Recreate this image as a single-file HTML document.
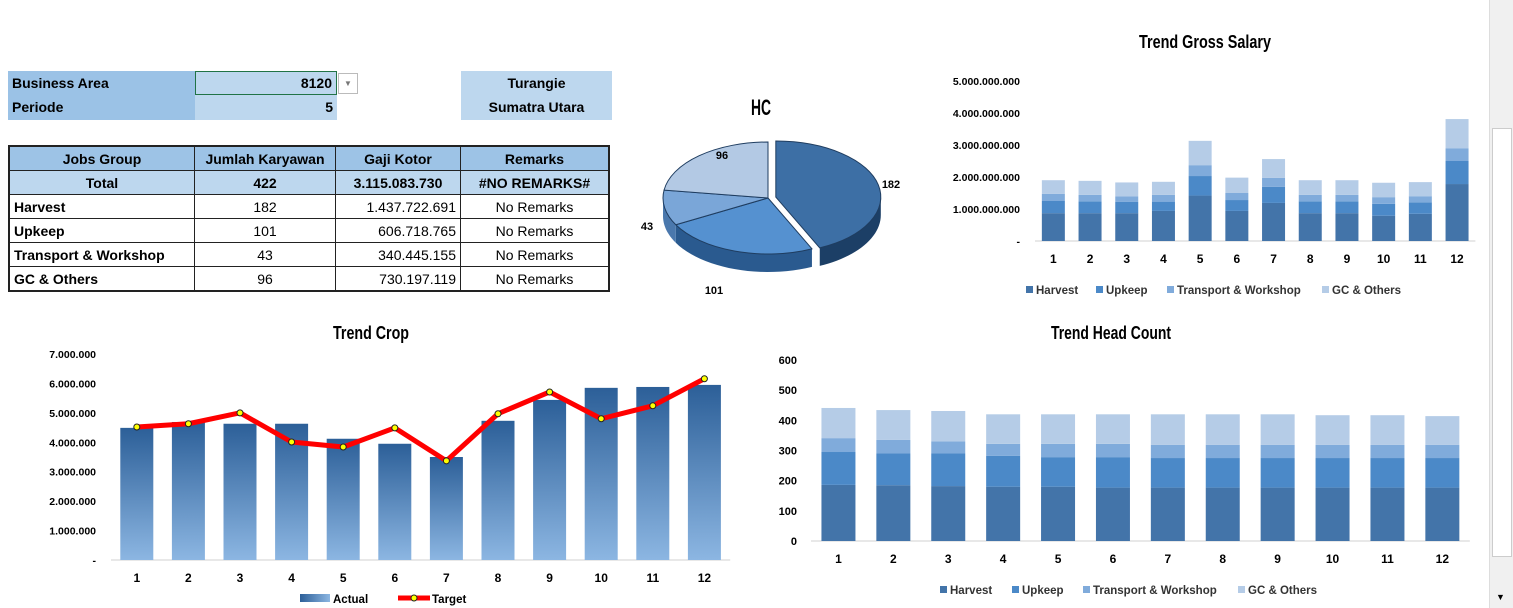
<!DOCTYPE html>
<html><head><meta charset="utf-8">
<style>
body{margin:0;width:1513px;height:608px;overflow:hidden;background:#fff;font-family:"Liberation Sans",sans-serif;position:relative}
.abs{position:absolute}
table{border-collapse:collapse;position:absolute;left:8px;top:145px;font-family:"Liberation Sans",sans-serif;font-size:14px;border:2px solid #222}
td{height:23px;padding:0 4px;border:1px solid #222;white-space:nowrap}
</style></head><body>
<div class="abs" style="left:8px;top:71px;width:183px;height:24px;background:#9bc2e6;font-weight:bold;font-size:14px;line-height:24px;padding-left:4px">Business Area</div>
<div class="abs" style="left:8px;top:95px;width:183px;height:25px;background:#9bc2e6;font-weight:bold;font-size:14px;line-height:25px;padding-left:4px">Periode</div>
<div class="abs" style="left:195px;top:71px;width:136px;height:22px;background:#bdd7ee;border:1px solid #217346;font-weight:bold;font-size:14px;line-height:22px;text-align:right;padding-right:4px">8120</div>
<div class="abs" style="left:338px;top:73px;width:18px;height:19px;border:1px solid #bbb;background:#fff;font-size:8px;color:#777;text-align:center;line-height:19px">▼</div>
<div class="abs" style="left:195px;top:95px;width:138px;height:25px;background:#bdd7ee;font-weight:bold;font-size:14px;line-height:25px;text-align:right;padding-right:4px">5</div>
<div class="abs" style="left:461px;top:71px;width:151px;height:49px;background:#bdd7ee;font-weight:bold;font-size:14px;line-height:24px;text-align:center">Turangie<br>Sumatra Utara</div>
<table>
<tr style="background:#9dc3e6;text-align:center;font-weight:bold"><td style="width:176px">Jobs Group</td><td style="width:132px">Jumlah Karyawan</td><td style="width:116px">Gaji Kotor</td><td style="width:139px">Remarks</td></tr>
<tr style="background:#bdd7ee;font-weight:bold;text-align:center"><td>Total</td><td>422</td><td>3.115.083.730</td><td>#NO REMARKS#</td></tr>
<tr><td style="font-weight:bold">Harvest</td><td style="text-align:center">182</td><td style="text-align:right">1.437.722.691</td><td style="text-align:center">No Remarks</td></tr>
<tr><td style="font-weight:bold">Upkeep</td><td style="text-align:center">101</td><td style="text-align:right">606.718.765</td><td style="text-align:center">No Remarks</td></tr>
<tr><td style="font-weight:bold">Transport &amp; Workshop</td><td style="text-align:center">43</td><td style="text-align:right">340.445.155</td><td style="text-align:center">No Remarks</td></tr>
<tr><td style="font-weight:bold">GC &amp; Others</td><td style="text-align:center">96</td><td style="text-align:right">730.197.119</td><td style="text-align:center">No Remarks</td></tr>
</table>
<div class="abs" style="left:1489px;top:0;width:24px;height:608px;background:#f0f0f0;border-left:1px solid #ddd"><div style="position:absolute;left:2px;top:128px;width:18px;height:427px;background:#fff;border:1px solid #ccc"></div><div style="position:absolute;left:6px;top:592px;font-size:9px">▼</div></div>
<svg id="svg" class="abs" style="left:0;top:0" width="1489" height="608" xmlns="http://www.w3.org/2000/svg">
<defs><linearGradient id="cropGrad" x1="0" y1="0" x2="0" y2="1"><stop offset="0" stop-color="#2c5f98"/><stop offset="1" stop-color="#8cb6e2"/></linearGradient>
<linearGradient id="legGrad" x1="0" y1="0" x2="1" y2="0"><stop offset="0" stop-color="#2c5f98"/><stop offset="1" stop-color="#8cb6e2"/></linearGradient></defs>
</svg>
<script>
const months=['1','2','3','4','5','6','7','8','9','10','11','12'];
const seriesNames=['Harvest','Upkeep','Transport & Workshop','GC & Others'];
const salHarvest=[0.87,0.87,0.87,0.94,1.42,0.94,1.19,0.87,0.87,0.79,0.85,1.78];
const salUpkeep=[0.38,0.37,0.35,0.29,0.61,0.34,0.50,0.37,0.37,0.37,0.36,0.72];
const salTransport=[0.22,0.20,0.17,0.21,0.34,0.22,0.28,0.20,0.20,0.21,0.19,0.40];
const salGC=[0.43,0.44,0.44,0.41,0.76,0.48,0.59,0.46,0.46,0.45,0.44,0.91];
const salTicks=['-','1.000.000.000','2.000.000.000','3.000.000.000','4.000.000.000','5.000.000.000'];
const hcHarvest=[186,185,182,180,180,177,177,177,177,177,177,177];
const hcUpkeep=[109,105,108,102,98,101,98,98,98,98,98,98];
const hcTransport=[46,45,40,40,44,44,44,44,44,44,44,44];
const hcGC=[100,99,101,98,98,98,101,101,101,98,98,95];
const hcTicks=['0','100','200','300','400','500','600'];
const cropActual=[4.49,4.69,4.63,4.63,4.12,3.95,3.50,4.73,5.44,5.85,5.88,5.95];
const cropTarget=[4.52,4.63,5.00,4.01,3.84,4.49,3.37,4.97,5.71,4.80,5.24,6.16];
const cropTicks=['-','1.000.000','2.000.000','3.000.000','4.000.000','5.000.000','6.000.000','7.000.000'];
const pieLabels=['182','101','43','96'];
const pieValues=[182,101,43,96];

const svg=document.getElementById('svg');const NS='http://www.w3.org/2000/svg';
function mk(tag,attrs,parent){const e=document.createElementNS(NS,tag);for(const k in attrs)e.setAttribute(k,attrs[k]);(parent||svg).appendChild(e);return e;}
function txt(x,y,s,size,anchor,extra){const t=mk('text',Object.assign({x:x,y:y,'font-size':size,'font-weight':'bold','text-anchor':anchor||'middle','font-family':'Liberation Sans, sans-serif'},extra||{}));t.textContent=s;return t;}
const colors=['#4374a9','#4b89c8','#80abdb','#b5cce7'];

function stacked(o){
  const g=mk('g',{});
  
  
  const y=v=>o.y0-(v/o.max)*(o.y0-o.yTop);
  const x=i=>o.x0+o.step*(i+0.5);
  o.ticks.forEach((t,i)=>{const tt=txt(o.tickX,y(o.max*i/(o.ticks.length-1))+4,t,o.tickSize,'end');});
  const ax=mk('line',{x1:o.x0,x2:o.x0+o.step*12,y1:o.y0,y2:o.y0,stroke:'#d0d0d0'},g);
  
  months.forEach((m,i)=>{
    let base=0;
    o.data.forEach((arr,s)=>{
      const r=mk('rect',{x:x(i)-o.bw/2,y:y(base+arr[i]),width:o.bw,height:y(base)-y(base+arr[i]),fill:colors[s]},g);
      
      
      base+=arr[i];
    });
    const l=txt(x(i),o.y0+22,m,12);
    
  });
  seriesNames.forEach((n,s)=>{
    mk('rect',{x:o.legX[s],y:o.legY-8,width:7,height:7,fill:colors[s]},g);
    const t=txt(o.legX[s]+10,o.legY,n,11.5,'start',{fill:'#333'});
    
  });
}
stacked({name:'gross-salary-chart',x0:1035,step:36.7,bw:23,y0:241,yTop:81,max:5,ticks:salTicks,tickX:1020,tickSize:10.5,
  data:[salHarvest,salUpkeep,salTransport,salGC],legX:[1026,1096,1167,1322],legY:294});
stacked({name:'head-count-chart',x0:811,step:54.9,bw:34,y0:541,yTop:360,max:600,ticks:hcTicks,tickX:797,tickSize:11,
  data:[hcHarvest,hcUpkeep,hcTransport,hcGC],legX:[940,1012,1083,1238],legY:594});

function title(x,y,s,size,len,name){const t=txt(x,y,s,size,'middle',{textLength:len,lengthAdjust:'spacingAndGlyphs'});}
title(1205,48,'Trend Gross Salary',18,132,'gross-salary-title');
title(1111,339,'Trend Head Count',18,120,'head-count-title');
title(371,339,'Trend Crop',18,76,'crop-title');
title(761,115,'HC',22,20,'hc-title');

// crop chart
(function(){
  const x0=111,step=51.6,bw=33,y0=560,yTop=354,max=7;
  const y=v=>y0-(v/max)*(y0-yTop);const x=i=>x0+step*(i+0.5);
  const g=mk('g',{});
  cropTicks.forEach((tk,i)=>{const tt=txt(96,y(i)+4,tk,10.5,'end');});
  mk('line',{x1:x0,x2:x0+step*12,y1:y0,y2:y0,stroke:'#d0d0d0'},g);
  cropActual.forEach((v,i)=>{
    const r=mk('rect',{x:x(i)-bw/2,y:y(v),width:bw,height:y0-y(v),fill:'url(#cropGrad)'},g);
    
    const l=txt(x(i),y0+22,months[i],12);
  });
  const pl=mk('polyline',{points:cropTarget.map((v,i)=>x(i)+','+y(v)).join(' '),fill:'none',stroke:'#f00',"stroke-width":5,'stroke-linejoin':'round'},g);
  
  cropTarget.forEach((v,i)=>{const c=mk('circle',{cx:x(i),cy:y(v),r:3,fill:'#ff0',stroke:'#222','stroke-width':1},g);});
  mk('rect',{x:300,y:594,width:30,height:8,fill:'url(#legGrad)'},g);
  let a=txt(333,603,'Actual',11.5,'start');
  mk('line',{x1:398,x2:430,y1:598,y2:598,stroke:'#f00','stroke-width':5},g);
  mk('circle',{cx:414,cy:598,r:3,fill:'#ff0',stroke:'#222'},g);
  a=txt(432,603,'Target',11.5,'start');
})();

// pie
(function(){
  const cx=768,cy=198,rx=105,ry=56,depth=18;
  const pc=['#3d6fa5','#5591d0','#7aa6d8','#b3c9e4'];const side=['#1c3f66','#2a5a8f','#4a78ad','#7d98bb'];
  const g=mk('g',{});
  const tot=pieValues.reduce((a,b)=>a+b,0);
  let ang=-Math.PI/2;
  const slices=pieValues.map((v,i)=>{const a0=ang;ang+=v/tot*2*Math.PI;return[a0,ang];});
  const pt=(a,ox,oy,dy)=>[cx+ox+rx*Math.cos(a),cy+oy+ry*Math.sin(a)+(dy||0)];
  slices.forEach(([a0,a1],i)=>{
    const mid=(a0+a1)/2;const ex=i===0?8:0;const ox=ex*Math.cos(mid),oy=ex*Math.sin(mid)*0.55;
    const s0=Math.max(a0,0),s1=Math.min(a1,Math.PI);
    if(s1>s0){
      let d='';const N=24;
      for(let k=0;k<=N;k++){const a=s0+(s1-s0)*k/N;const p=pt(a,ox,oy);d+=(k?'L':'M')+p[0]+','+p[1];}
      for(let k=N;k>=0;k--){const a=s0+(s1-s0)*k/N;const p=pt(a,ox,oy,depth);d+='L'+p[0]+','+p[1];}
      mk('path',{d:d+'Z',fill:side[i]},g);
    }
    const p0=pt(a0,ox,oy),p1=pt(a1,ox,oy);
    const large=(a1-a0)>Math.PI?1:0;
    const sl=mk('path',{d:`M${cx+ox},${cy+oy}L${p0[0]},${p0[1]}A${rx},${ry} 0 ${large} 1 ${p1[0]},${p1[1]}Z`,fill:pc[i],stroke:'#1f3d60','stroke-width':1},g);
    
  });
  const lp=[[891,188],[714,294],[647,230],[722,159]];
  pieLabels.forEach((l,i)=>{const tt=txt(lp[i][0],lp[i][1],l,11);});
})();
</script>
</body></html>
